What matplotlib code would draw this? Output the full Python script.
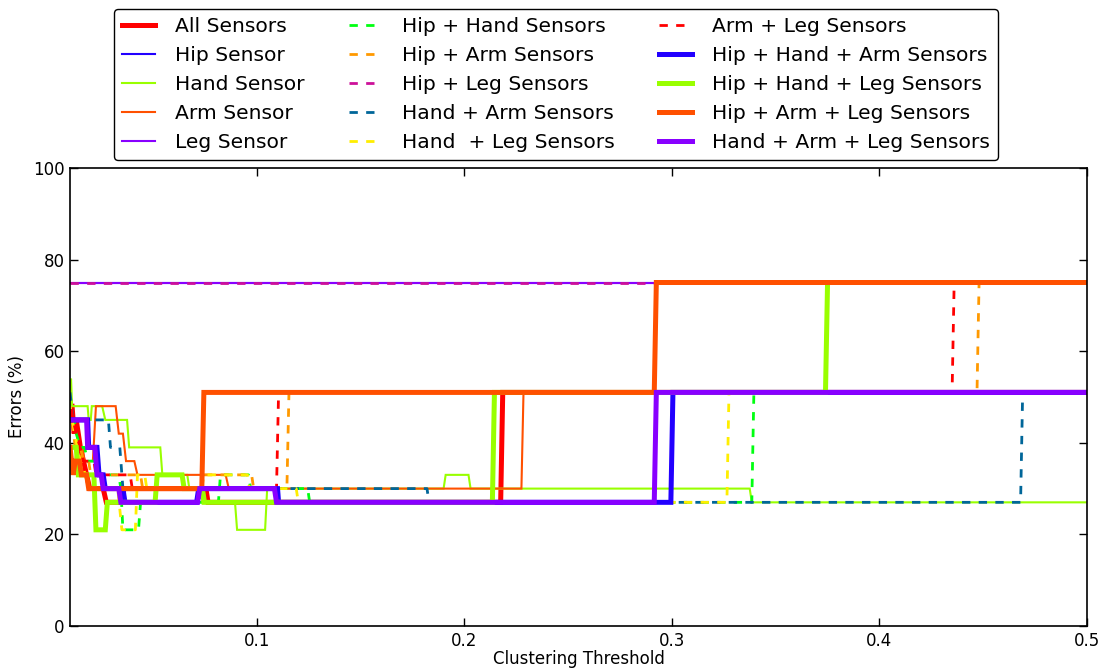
import matplotlib
matplotlib.use("Agg")
import matplotlib.pyplot as plt

plt.rcParams["font.family"] = "DejaVu Sans"
plt.rcParams["lines.scale_dashes"] = False

# Error rate (%) versus clustering threshold for each sensor combination
all_x = [0.010, 0.0105, 0.011, 0.012, 0.013, 0.014, 0.015, 0.0165, 0.018, 0.0195, 0.026, 0.0275,
         0.035, 0.036, 0.0755, 0.0765, 0.2175, 0.2185, 0.500]
all_y = [45, 48, 48, 42, 45, 42, 39, 36, 33, 30, 30, 27, 27, 30, 30, 27, 27, 51, 51]

hip_x = [0.010, 0.500]
hip_y = [75, 75]

hand_x = [0.010, 0.0105, 0.011, 0.0185, 0.019, 0.020, 0.0205, 0.0255, 0.027, 0.0375, 0.0385, 0.0535,
          0.0545, 0.0665, 0.0675, 0.0745, 0.0755, 0.0895, 0.0905, 0.104, 0.105, 0.190, 0.191, 0.202,
          0.203, 0.3375, 0.3385, 0.500]
hand_y = [48, 54, 48, 48, 45, 45, 48, 48, 45, 45, 39, 39, 33, 33, 30, 30, 27, 27, 21, 21, 30, 30,
          33, 33, 30, 30, 27, 27]

arm_x = [0.010, 0.011, 0.0125, 0.0135, 0.016, 0.017, 0.021, 0.0225, 0.032, 0.0335, 0.0355, 0.037,
         0.041, 0.0425, 0.085, 0.0865, 0.2275, 0.2285, 0.500]
arm_y = [39, 36, 36, 39, 39, 36, 36, 48, 48, 42, 42, 36, 36, 33, 33, 30, 30, 51, 51]

leg_x = [0.010, 0.500]
leg_y = [75, 75]

hip_hand_x = [0.010, 0.012, 0.013, 0.015, 0.017, 0.0185, 0.0225, 0.024, 0.0335, 0.0345, 0.0355,
              0.043, 0.044, 0.0815, 0.0825, 0.096, 0.097, 0.1245, 0.1255, 0.3385, 0.3395, 0.500]
hip_hand_y = [45, 45, 42, 39, 39, 36, 36, 33, 33, 30, 21, 21, 27, 27, 33, 33, 30, 30, 27, 27, 51, 51]

hip_arm_x = [0.010, 0.011, 0.0125, 0.015, 0.0165, 0.019, 0.020, 0.044, 0.045, 0.0735, 0.0745,
             0.0975, 0.0985, 0.1145, 0.1155, 0.447, 0.448, 0.500]
hip_arm_y = [48, 45, 39, 39, 36, 36, 33, 33, 30, 30, 33, 33, 30, 30, 51, 51, 75, 75]

hip_leg_x = [0.010, 0.500]
hip_leg_y = [75, 75]

hand_arm_x = [0.010, 0.0115, 0.0285, 0.0295, 0.034, 0.036, 0.072, 0.073, 0.182, 0.183, 0.468,
              0.469, 0.500]
hand_arm_y = [51, 45, 45, 39, 39, 27, 27, 30, 30, 27, 27, 51, 51]

hand_leg_x = [0.010, 0.011, 0.0125, 0.0135, 0.015, 0.0175, 0.0195, 0.033, 0.035, 0.0415, 0.0425,
              0.046, 0.047, 0.0735, 0.0745, 0.0955, 0.0965, 0.119, 0.120, 0.3265, 0.3275, 0.500]
hand_leg_y = [48, 45, 42, 39, 36, 33, 30, 30, 21, 21, 33, 33, 30, 30, 33, 33, 30, 30, 27, 27, 51, 51]

arm_leg_x = [0.010, 0.0105, 0.0115, 0.013, 0.0155, 0.0165, 0.0215, 0.0225, 0.039, 0.040, 0.1095,
             0.1105, 0.435, 0.436, 0.500]
arm_leg_y = [45, 48, 45, 42, 38, 36, 36, 33, 33, 30, 30, 51, 51, 75, 75]

hip_hand_arm_x = [0.010, 0.0185, 0.019, 0.023, 0.024, 0.026, 0.027, 0.0355, 0.0365, 0.071, 0.072,
                  0.110, 0.1105, 0.2995, 0.3005, 0.500]
hip_hand_arm_y = [45, 45, 39, 39, 33, 33, 30, 30, 27, 27, 30, 30, 27, 27, 51, 51]

hip_hand_leg_x = [0.010, 0.013, 0.014, 0.0215, 0.0225, 0.027, 0.028, 0.051, 0.052, 0.064, 0.065,
                  0.0735, 0.0745, 0.2135, 0.2145, 0.374, 0.375, 0.500]
hip_hand_leg_y = [39, 39, 33, 33, 21, 21, 27, 27, 33, 33, 30, 30, 27, 27, 51, 51, 75, 75]

hip_arm_leg_x = [0.010, 0.0115, 0.0125, 0.0145, 0.0155, 0.018, 0.019, 0.0735, 0.0745, 0.2915,
                 0.2925, 0.500]
hip_arm_leg_y = [39, 33, 36, 36, 33, 33, 30, 30, 51, 51, 75, 75]

hand_arm_leg_x = [0.010, 0.018, 0.0185, 0.022, 0.023, 0.025, 0.026, 0.0335, 0.0345, 0.0715, 0.0725,
                  0.1085, 0.1095, 0.2915, 0.2925, 0.500]
hand_arm_leg_y = [45, 45, 39, 39, 33, 33, 30, 30, 27, 27, 30, 30, 27, 27, 51, 51]

series_labels = [
    "All Sensors", "Hip Sensor", "Hand Sensor", "Arm Sensor", "Leg Sensor",
    "Hip + Hand Sensors", "Hip + Arm Sensors", "Hip + Leg Sensors", "Hand + Arm Sensors",
    "Hand  + Leg Sensors", "Arm + Leg Sensors", "Hip + Hand + Arm Sensors",
    "Hip + Hand + Leg Sensors", "Hip + Arm + Leg Sensors", "Hand + Arm + Leg Sensors",
]
series_data = [
    (all_x, all_y), (hip_x, hip_y), (hand_x, hand_y), (arm_x, arm_y), (leg_x, leg_y),
    (hip_hand_x, hip_hand_y), (hip_arm_x, hip_arm_y), (hip_leg_x, hip_leg_y),
    (hand_arm_x, hand_arm_y), (hand_leg_x, hand_leg_y), (arm_leg_x, arm_leg_y),
    (hip_hand_arm_x, hip_hand_arm_y), (hip_hand_leg_x, hip_hand_leg_y),
    (hip_arm_leg_x, hip_arm_leg_y), (hand_arm_leg_x, hand_arm_leg_y),
]

RED, BLUE, LIME, ORANGERED, VIOLET = "#ff0000", "#2200ff", "#99ff00", "#ff5000", "#8800ff"
styles = [
    dict(color=RED, lw=3.6),
    dict(color=BLUE, lw=1.5),
    dict(color=LIME, lw=1.5),
    dict(color=ORANGERED, lw=1.5),
    dict(color=VIOLET, lw=1.5),
    dict(color="#00ff11", lw=2, dashes=(6, 6)),
    dict(color="#ff9900", lw=2, dashes=(6, 6)),
    dict(color="#cc1199", lw=2, dashes=(6, 6)),
    dict(color="#006699", lw=2, dashes=(6, 6)),
    dict(color="#ffee00", lw=2, dashes=(6, 6)),
    dict(color=RED, lw=2, dashes=(6, 6)),
    dict(color=BLUE, lw=3.6),
    dict(color=LIME, lw=3.6),
    dict(color=ORANGERED, lw=3.6),
    dict(color=VIOLET, lw=3.6),
]

fig = plt.figure(figsize=(11.08, 6.70), dpi=100, facecolor="white")
ax = fig.add_axes([70 / 1108, 44 / 670, 1017 / 1108, 458 / 670])

for label, (xs, ys), st in zip(series_labels, series_data, styles):
    ax.plot(xs, ys, label=label, solid_joinstyle="miter", **st)

ax.set_xlim(0.01, 0.5)
ax.set_ylim(0, 100)
ax.set_xticks([0.1, 0.2, 0.3, 0.4, 0.5])
ax.set_xticklabels(["0.1", "0.2", "0.3", "0.4", "0.5"])
ax.set_yticks([0, 20, 40, 60, 80, 100])
ax.tick_params(direction="in", top=True, right=True, length=6, width=1, labelsize=12, pad=4)
for sp in ax.spines.values():
    sp.set_linewidth(1.2)
ax.set_xlabel("Clustering Threshold", fontsize=12, labelpad=0)
ax.set_ylabel("Errors (%)", fontsize=12, labelpad=5)

fig.legend(loc="upper center", bbox_to_anchor=(0.502, 0.987), ncol=3, fontsize=14.6,
           frameon=True, fancybox=True, edgecolor="black", framealpha=1,
           handlelength=1.6, handletextpad=1.0, columnspacing=2.2, labelspacing=0.5,
           borderaxespad=0, borderpad=0.4)

fig.savefig("out.png", dpi=100, facecolor="white")
